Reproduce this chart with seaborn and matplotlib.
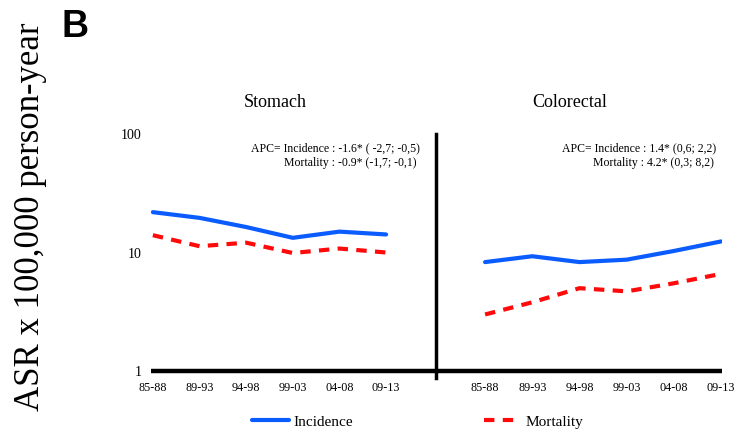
import matplotlib
matplotlib.use("Agg")
import matplotlib.pyplot as plt
from matplotlib.ticker import NullLocator
import numpy as np
import pandas as pd
import seaborn as sns

# ---- data ----
periods = ["85-88", "89-93", "94-98", "99-03", "04-08", "09-13"]
sites = ["Stomach", "Colorectal"]
measures = ["Incidence", "Mortality"]
stomach_incidence = [21.9, 19.6, 16.4, 13.3, 15.0, 14.2]
stomach_mortality = [14.0, 11.3, 12.1, 9.9, 10.8, 10.0]
colorectal_incidence = [8.3, 9.3, 8.3, 8.7, 10.3, 12.4]
colorectal_mortality = [3.0, 3.8, 5.0, 4.7, 5.5, 6.6]
yticks = [1, 10, 100]
ytick_labels = ["1", "10", "100"]
apc_text = {
    "Stomach": ["APC= Incidence : -1.6* ( -2,7; -0,5)", "Mortality : -0.9* (-1,7; -0,1)"],
    "Colorectal": ["APC= Incidence : 1.4* (0,6; 2,2)", "Mortality : 4.2* (0,3; 8,2)"],
}
ylabel = "ASR x 100,000 person-year"
panel_letter = "B"

values = {
    ("Stomach", "Incidence"): stomach_incidence,
    ("Stomach", "Mortality"): stomach_mortality,
    ("Colorectal", "Incidence"): colorectal_incidence,
    ("Colorectal", "Mortality"): colorectal_mortality,
}
rows = []
for (site, measure), vals in values.items():
    for i, v in enumerate(vals):
        rows.append({"site": site, "measure": measure, "x": i, "period": periods[i], "asr": v})
df = pd.DataFrame(rows)

# ---- style ----
sns.set_theme(style="white")
plt.rcParams["font.family"] = ["Liberation Serif", "DejaVu Serif"]
plt.rcParams["text.color"] = "black"
plt.rcParams["xtick.color"] = "black"
plt.rcParams["ytick.color"] = "black"
plt.rcParams["axes.labelcolor"] = "black"

palette = {"Incidence": "#0a5cff", "Mortality": "#ff0a0a"}
dashes = {"Incidence": "", "Mortality": (2.5, 2.0)}

W, H = 750, 444
fx = lambda px: px / W
fy = lambda py: 1 - py / H

fig = plt.figure(figsize=(7.5, 4.44), dpi=100)
ax_bottom, ax_top = 371, 134
axL = fig.add_axes([fx(151), fy(ax_bottom), (436 - 151) / W, (ax_bottom - ax_top) / H])
axR = fig.add_axes([fx(436), fy(ax_bottom), (722 - 436) / W, (ax_bottom - ax_top) / H], sharey=axL)

for ax, site in zip([axL, axR], sites):
    sns.lineplot(data=df[df["site"] == site], x="x", y="asr", hue="measure", style="measure",
                 hue_order=measures, style_order=measures,
                 palette=palette, dashes=dashes, linewidth=3, ax=ax,
                 legend=(site == "Stomach"))
    ax.set_yscale("log")
    ax.set_ylim(1, 100)
    ax.set_xticks(range(len(periods)))
    ax.set_xticklabels(periods, fontsize=8.7, color="black")
    ax.set_xlabel("")
    ax.set_ylabel("")
    ax.yaxis.set_minor_locator(NullLocator())
    ax.tick_params(axis="both", length=0, colors="black")
    ax.tick_params(axis="x", pad=8)
    for s in ["top", "right"]:
        ax.spines[s].set_visible(False)
    ax.spines["bottom"].set_linewidth(3.2)
    ax.spines["bottom"].set_color("black")
    ax.spines["bottom"].set_capstyle("butt")

axL.set_xlim(-0.04, 6.07)
axR.set_xlim(-1.04, 5.02)
axL.spines["left"].set_visible(False)
axL.set_yticks(yticks)
axL.set_yticklabels(ytick_labels, fontsize=10, color="black")
axL.tick_params(axis="y", pad=7)
axR.tick_params(axis="y", labelleft=False)
axR.spines["left"].set_linewidth(2.5)
axR.spines["left"].set_color("black")
axR.spines["left"].set_bounds(0.88, 100)

# legend
handles, labels = axL.get_legend_handles_labels()
axL.legend_.remove()
for h in handles:
    h.set_linewidth(3)
leg = fig.legend(handles, labels, loc="center left", bbox_to_anchor=(fx(252), fy(422)),
                 ncol=2, frameon=False, fontsize=11, handlelength=2.4, handletextpad=0.3,
                 columnspacing=8.6, borderpad=0, borderaxespad=0, labelcolor="black")

# titles
fig.text(fx(275), fy(107), "Stomach", ha="center", va="baseline", fontsize=13, color="black")
fig.text(fx(570), fy(107), "Colorectal", ha="center", va="baseline", fontsize=13, color="black")

# APC annotations
fig.text(fx(420), fy(151), apc_text["Stomach"][0], ha="right", va="baseline", fontsize=8.5, color="black")
fig.text(fx(416), fy(166), apc_text["Stomach"][1], ha="right", va="baseline", fontsize=8.5, color="black")
fig.text(fx(716), fy(151), apc_text["Colorectal"][0], ha="right", va="baseline", fontsize=8.5, color="black")
fig.text(fx(714), fy(166), apc_text["Colorectal"][1], ha="right", va="baseline", fontsize=8.5, color="black")

# y label and panel letter
fig.text(fx(31), fy(217), ylabel, rotation=90, ha="center", va="center", fontsize=25, color="black")
fig.text(fx(62), fy(9), panel_letter, ha="left", va="top", fontsize=27, fontweight="bold",
         family=["Liberation Sans", "DejaVu Sans"], color="black")

fig.savefig("out.png", dpi=100)
